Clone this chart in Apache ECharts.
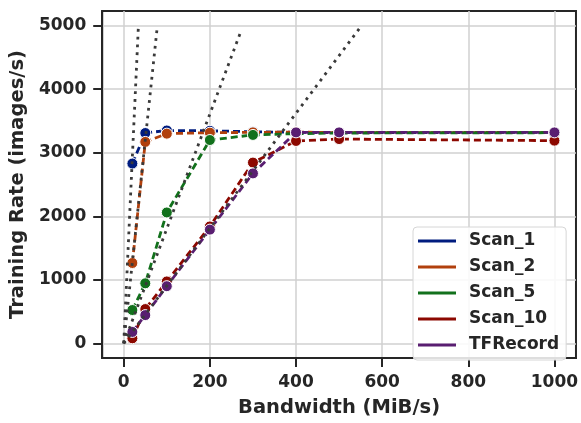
<!DOCTYPE html>
<html>
<head>
<meta charset="utf-8">
<script src="https://cdn.jsdelivr.net/npm/echarts@6/dist/echarts.min.js"></script>
<style>
html, body { margin: 0; padding: 0; background: #fff; }
#main { width: 581px; height: 423px; }
</style>
</head>
<body>
<div id="main"></div>
<script>
// bandwidth steps (MiB/s)
var bandwidth = [20, 50, 100, 200, 300, 400, 500, 1000];
// training rate (images/s) per dataset
var scan1 = [2830, 3310, 3350, 3345, 3330, 3320, 3315, 3320];
var scan2 = [1265, 3170, 3300, 3315, 3320, 3325, 3315, 3315];
var scan5 = [525, 945, 2060, 3200, 3280, 3300, 3310, 3315];
var scan10 = [80, 540, 975, 1840, 2845, 3185, 3215, 3190];
var tfrecord = [180, 445, 900, 1790, 2675, 3320, 3320, 3320];
var seriesNames = ['Scan_1', 'Scan_2', 'Scan_5', 'Scan_10', 'TFRecord'];
var seriesColors = ['#001c7f', '#b1400d', '#12711c', '#8c0800', '#591e71'];
// ideal (bandwidth bound) lines: end points [x, y], start at origin
var idealEnds = [[34, 4990], [77, 4930], [272, 4910], [550, 4980]];
var xTicks = [0, 200, 400, 600, 800, 1000];
var yTicks = [0, 1000, 2000, 3000, 4000, 5000];

var chartDom = document.getElementById('main');
var myChart = echarts.init(chartDom);
var font = 'DejaVu Sans';
var ink = '#262626';

function pairs(ys) {
	return bandwidth.map(function (x, i) { return [x, ys[i]]; });
}
function plain(v) { return String(v); }

var values = [scan1, scan2, scan5, scan10, tfrecord];
var series = values.map(function (ys, i) {
	return {
		name: seriesNames[i],
		type: 'line',
		data: pairs(ys),
		symbol: 'circle',
		symbolSize: 11,
		color: seriesColors[i],
		lineStyle: { width: 2.8, type: [7, 4] },
		itemStyle: { color: seriesColors[i], borderColor: '#fff', borderWidth: 1 },
		emphasis: { disabled: true },
		z: 2
	};
});
idealEnds.forEach(function (e) {
	series.push({
		type: 'line',
		data: [[0, 0], e],
		showSymbol: false,
		symbol: 'none',
		lineStyle: { color: '#3a3a3a', width: 2.8, type: [2.8, 5] },
		silent: true,
		z: 3
	});
});

var option = {
	animation: false,
	textStyle: { fontFamily: font },
	grid: {
		left: 100, top: 11, right: 4, bottom: 54,
		show: true, borderColor: ink, borderWidth: 2, backgroundColor: '#fff'
	},
	legend: {
		data: seriesNames,
		orient: 'vertical',
		left: 413, top: 227,
		icon: 'rect',
		itemWidth: 38, itemHeight: 3,
		itemGap: 8,
		padding: [5, 7, 6, 5],
		itemStyle: { borderWidth: 0 },
		backgroundColor: 'rgba(255,255,255,0.85)',
		borderColor: '#d6d6d6', borderWidth: 1, borderRadius: 4,
		textStyle: { fontFamily: font, fontWeight: 'bold', fontSize: 17, color: ink, lineHeight: 18, padding: [0, 0, 0, 8] }
	},
	xAxis: {
		type: 'value',
		min: -50, max: 1050,
		name: 'Bandwidth (MiB/s)',
		nameLocation: 'middle', nameGap: 40,
		nameTextStyle: { fontFamily: font, fontWeight: 'bold', fontSize: 19.5, color: ink },
		axisLine: { show: true, onZero: false, lineStyle: { color: ink, width: 2 } },
		axisTick: { show: true, length: 9, customValues: xTicks, lineStyle: { color: ink, width: 2 } },
		axisLabel: { customValues: xTicks, formatter: plain, margin: 16, fontFamily: font, fontWeight: 'bold', fontSize: 17, color: ink },
		splitLine: { show: true, lineStyle: { color: '#d0d0d0', width: 1.5 } }
	},
	yAxis: {
		type: 'value',
		min: -230, max: 5230,
		name: 'Training Rate (images/s)',
		nameLocation: 'middle', nameGap: 64,
		nameTextStyle: { fontFamily: font, fontWeight: 'bold', fontSize: 19.5, color: ink },
		axisLine: { show: true, onZero: false, lineStyle: { color: ink, width: 2 } },
		axisTick: { show: true, length: 9, customValues: yTicks, lineStyle: { color: ink, width: 2 } },
		axisLabel: { customValues: yTicks, formatter: plain, margin: 16, fontFamily: font, fontWeight: 'bold', fontSize: 17, color: ink },
		splitLine: { show: true, lineStyle: { color: '#d0d0d0', width: 1.5 } }
	},
	series: series
};
option && myChart.setOption(option);
</script>
</body>
</html>
